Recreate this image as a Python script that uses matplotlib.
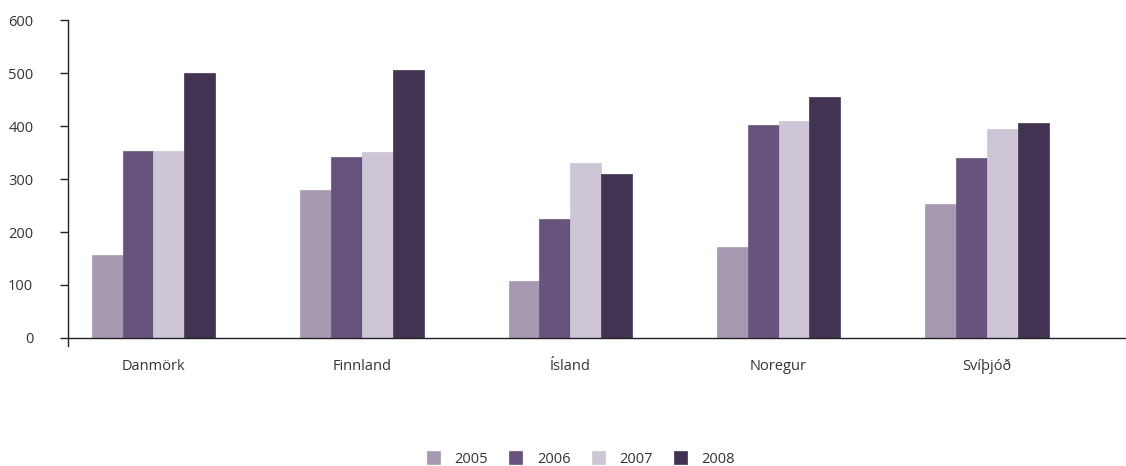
import matplotlib.pyplot as plt
import numpy as np

plt.rcParams['font.family'] = ['Open Sans', 'DejaVu Sans']

countries = ["Danmörk", "Finnland", "Ísland", "Noregur", "Svíþjóð"]
years = ["2005", "2006", "2007", "2008"]
v2005 = [157, 280, 107, 172, 252]
v2006 = [352, 341, 224, 401, 340]
v2007 = [353, 351, 330, 409, 394]
v2008 = [500, 505, 310, 454, 406]
colors = ["#a899b3", "#68537f", "#cdc6d6", "#433352"]

series = [v2005, v2006, v2007, v2008]

fig = plt.figure(figsize=(11.26, 4.66), dpi=100)
ax = fig.add_axes([0.0604, 0.2747, 0.9396, 0.6823])

x = np.arange(len(countries))
w = 0.148
for i, (vals, yr) in enumerate(zip(series, years)):
    ax.bar(x + (i - 1.5) * w, vals, w, color=colors[i], label=yr,
           edgecolor=colors[i], linewidth=0.5)

ax.set_xlim(-0.41, len(countries) - 0.333)
ax.set_ylim(0, 600)
ax.set_yticks(range(0, 601, 100))
ax.set_xticks(x)
ax.set_xticklabels(countries)

for s in ["top", "right"]:
    ax.spines[s].set_visible(False)
ax.spines["left"].set_bounds(0, 600)
ax.spines["left"].set_color("#222222")
ax.spines["bottom"].set_color("#222222")
ax.spines["left"].set_linewidth(1.0)
ax.spines["bottom"].set_linewidth(1.0)
ax.tick_params(axis="x", length=0, pad=15, labelsize=10.5, labelcolor="#333333")
ax.tick_params(axis="y", length=6, width=1, color="#222222", pad=19,
               labelsize=10.5, labelcolor="#333333")

ax.plot([0, 0], [-0.025, 0], transform=ax.transAxes, color="#222222",
        lw=1, clip_on=False)

fig.legend(loc="center", bbox_to_anchor=(0.516, 0.015), ncol=4,
           frameon=False, fontsize=10.5, handlelength=0.9, handleheight=0.9,
           handletextpad=1.0, columnspacing=1.45, labelcolor="#333333",
           borderpad=0)

fig.savefig("out.png", dpi=100)
